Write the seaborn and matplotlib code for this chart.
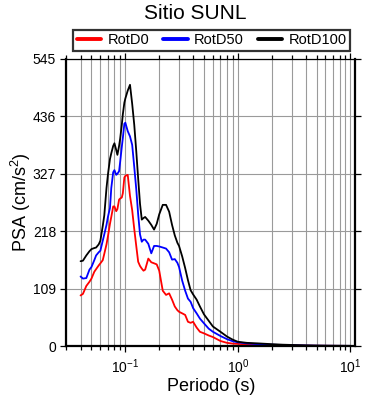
import numpy as np
import pandas as pd
import seaborn as sns
import matplotlib
matplotlib.use("Agg")
import matplotlib.pyplot as plt
from matplotlib.ticker import LogLocator, FixedLocator, NullFormatter

# periods (s)
periods = [
    0.040, 0.042, 0.045, 0.048, 0.050, 0.053, 0.055, 0.058, 0.060, 0.063,
    0.065, 0.068, 0.070, 0.073, 0.075, 0.078, 0.080, 0.083, 0.085, 0.088,
    0.090, 0.093, 0.095, 0.098, 0.100, 0.105, 0.110, 0.115, 0.120, 0.125,
    0.130, 0.135, 0.140, 0.145, 0.150, 0.160, 0.170, 0.180, 0.190, 0.200,
    0.215, 0.230, 0.245, 0.260, 0.275, 0.290, 0.300, 0.320, 0.340, 0.360,
    0.380, 0.400, 0.430, 0.460, 0.500, 0.550, 0.600, 0.700, 0.800, 0.900,
    1.0, 1.2, 1.5, 2.0, 2.5, 3.0, 4.0, 5.0, 6.0, 7.5,
    10.0,
]

# PSA (cm/s^2)
rotd0 = [
    96, 99, 114, 122, 128, 141, 146, 153, 157, 163,
    175, 193, 208, 232, 245, 265, 265, 256, 260, 278,
    280, 282, 290, 320, 323, 325, 285, 258, 222, 190,
    160, 152, 147, 143, 145, 166, 159, 157, 155, 143,
    105, 97, 100, 88, 75, 68, 65, 62, 59, 46,
    44, 46, 35, 27, 24, 20, 17, 9.5, 6, 4.5,
    4, 3, 2.2, 1.6, 1.2, 1.0, 0.7, 0.5, 0.4, 0.3,
    0.2,
]
rotd50 = [
    132, 128, 129, 145, 150, 163, 172, 178, 181, 200,
    212, 230, 245, 262, 300, 330, 334, 325, 327, 332,
    350, 378, 395, 422, 424, 408, 398, 382, 340, 298,
    250, 212, 198, 202, 202, 194, 176, 190, 190, 189,
    187, 185, 178, 164, 165, 158, 150, 124, 105, 90,
    84, 72, 62, 52, 43, 33, 27, 19, 13, 9,
    7, 5, 3.5, 2.5, 1.8, 1.4, 0.9, 0.6, 0.45, 0.35,
    0.25,
]
rotd100 = [
    161, 162, 172, 180, 184, 186, 187, 193, 200, 228,
    248, 300, 325, 355, 366, 380, 385, 372, 363, 380,
    394, 420, 440, 462, 470, 485, 496, 460, 420, 370,
    318, 270, 240, 243, 245, 238, 230, 221, 232, 250,
    268, 268, 255, 230, 210, 196, 190, 170, 148, 125,
    106, 98, 88, 75, 60, 48, 37, 27, 18, 12,
    8, 6, 5, 3.5, 2.5, 2, 1.2, 0.8, 0.6, 0.45,
    0.3,
]

series_names = ["RotD0", "RotD50", "RotD100"]
series_colors = ["#ff0000", "#0000ff", "#000000"]
y_ticks = [0, 109, 218, 327, 436, 545]

df = pd.concat([
    pd.DataFrame({"T": periods, "PSA": vals, "comp": name})
    for name, vals in zip(series_names, [rotd0, rotd50, rotd100])
])

sns.set_style("ticks")
plt.rcParams["font.family"] = ["Liberation Sans", "DejaVu Sans"]
plt.rcParams["mathtext.fontset"] = "custom"
plt.rcParams["mathtext.rm"] = "Liberation Sans"
plt.rcParams["mathtext.it"] = "Liberation Sans:italic"
plt.rcParams["mathtext.bf"] = "Liberation Sans:bold"
for key in ["text.color", "axes.labelcolor", "xtick.color", "ytick.color",
            "axes.edgecolor"]:
    plt.rcParams[key] = "black"

fig = plt.figure(figsize=(3.9, 4.0), dpi=100)
ax = fig.add_axes([0.1705, 0.135, 0.740, 0.7175])

sns.lineplot(data=df, x="T", y="PSA", hue="comp", hue_order=series_names,
             palette=series_colors, linewidth=1.3, ax=ax, legend=False,
             sort=False, estimator=None)

ax.set_xscale("log")
ax.set_xlim(0.03, 11)
ax.set_ylim(0, 545)
ax.xaxis.set_major_locator(LogLocator(base=10))
ax.xaxis.set_minor_locator(LogLocator(base=10, subs=np.arange(2, 10)))
ax.xaxis.set_minor_formatter(NullFormatter())
ax.yaxis.set_major_locator(FixedLocator(y_ticks))
ax.set_yticklabels([str(v) for v in y_ticks])

ax.grid(True, which="major", axis="both", color="#9a9a9a", linewidth=0.8)
ax.grid(True, which="minor", axis="x", color="#9a9a9a", linewidth=0.8)
ax.set_axisbelow(True)

for side in ["left", "bottom", "right"]:
    ax.spines[side].set_linewidth(1.6)
ax.spines["top"].set_linewidth(0.9)
ax.tick_params(which="both", direction="out", top=True, right=True,
               labelsize=10, width=0.9, colors="black")
ax.tick_params(which="major", length=4)
ax.tick_params(which="minor", length=3)
ax.tick_params(axis="x", pad=4)

ax.set_xlabel("Periodo (s)", fontsize=13, labelpad=2)
ax.set_ylabel("PSA (cm/s$^2$)", fontsize=13, labelpad=0)
fig.suptitle("Sitio SUNL", fontsize=15, y=0.99)

handles = [plt.Line2D([], [], color=c, linewidth=2.8) for c in series_colors]
leg = ax.legend(handles, series_names, ncol=3, loc="lower left",
                bbox_to_anchor=(0.0225, 1.028, 0.96, 0.08), mode="expand",
                borderaxespad=0, fontsize=10.5, handlelength=1.7,
                handletextpad=0.4, frameon=True, fancybox=False,
                borderpad=0.25, columnspacing=1.0)
leg.get_frame().set_edgecolor("black")
leg.get_frame().set_linewidth(1.6)

fig.savefig("out.png", dpi=100)
